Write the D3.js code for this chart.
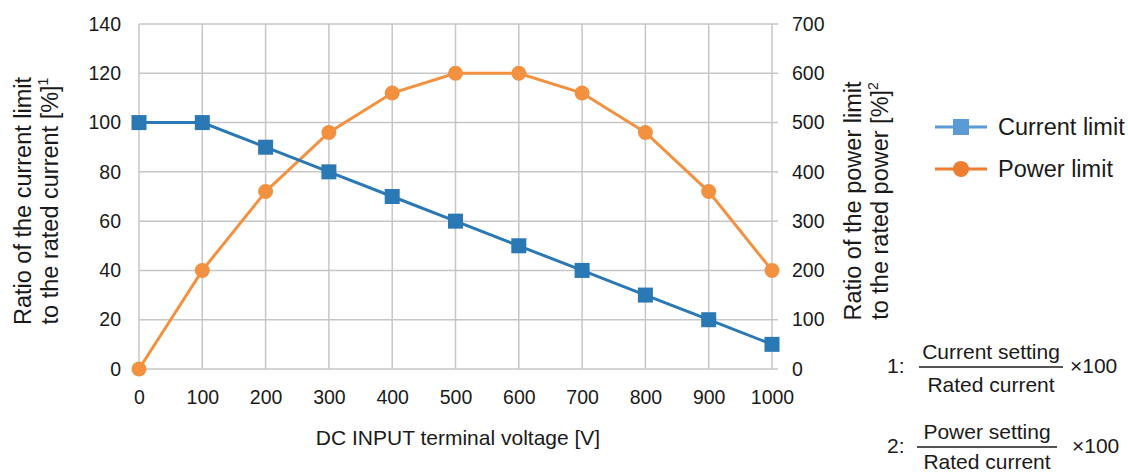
<!DOCTYPE html>
<html><head><meta charset="utf-8">
<script src="https://cdn.jsdelivr.net/npm/d3@7"></script>
<style>body{margin:0;background:#fff}svg{display:block;font-family:"Liberation Sans",Arial,sans-serif}</style>
</head><body>
<svg id="c" width="1128" height="474"></svg>
<script>
const voltages = [0,100,200,300,400,500,600,700,800,900,1000];
const currentLimit = [100,100,90,80,70,60,50,40,30,20,10];
const powerLimit = [0,200,360,480,560,600,600,560,480,360,200];
const leftTicks = [0,20,40,60,80,100,120,140];
const rightTicks = [0,100,200,300,400,500,600,700];
const xTicks = [0,100,200,300,400,500,600,700,800,900,1000];
const seriesNames = ["Current limit","Power limit"];

const svg = d3.select("#c");
const x = d3.scaleLinear().domain([0,1000]).range([139,772]);
const yL = d3.scaleLinear().domain([0,140]).range([369,24]);
const yR = d3.scaleLinear().domain([0,700]).range([369,24]);
const grid = "#c6c6c6";
const cBlue = "#2a78b4", cOrange = "#f2913f";
const ink = "#1a1a1a";

// grid
svg.append("g").selectAll("line").data(leftTicks).join("line")
  .attr("x1",x(0)).attr("x2",x(1000)).attr("y1",d=>yL(d)).attr("y2",d=>yL(d))
  .attr("stroke",grid).attr("stroke-width",1.5);
svg.append("g").selectAll("line").data(xTicks).join("line")
  .attr("x1",d=>x(d)).attr("x2",d=>x(d)).attr("y1",yL(0)).attr("y2",yL(140))
  .attr("stroke",grid).attr("stroke-width",1.5);
svg.append("g").selectAll("line").data(rightTicks).join("line")
  .attr("x1",x(1000)).attr("x2",x(1000)+6).attr("y1",d=>yR(d)).attr("y2",d=>yR(d))
  .attr("stroke",grid).attr("stroke-width",1.5);

// axes via d3
const axL = svg.append("g").attr("transform",`translate(${x(0)},0)`)
  .call(d3.axisLeft(yL).tickValues(leftTicks).tickFormat(d3.format("d")).tickSize(0).tickPadding(18));
const axR = svg.append("g").attr("transform",`translate(${x(1000)},0)`)
  .call(d3.axisRight(yR).tickValues(rightTicks).tickFormat(d3.format("d")).tickSize(0).tickPadding(20));
const axB = svg.append("g").attr("transform",`translate(0,${yL(0)})`)
  .call(d3.axisBottom(x).tickValues(xTicks).tickFormat(d3.format("d")).tickSize(0).tickPadding(21));
[axL,axR,axB].forEach(a=>{a.select(".domain").remove();
  a.selectAll("text").attr("font-size",19.5).attr("fill",ink).attr("font-family","Liberation Sans, Arial, sans-serif");});

// lines
const lineC = d3.line().x((d,i)=>x(voltages[i])).y(d=>yL(d));
const lineP = d3.line().x((d,i)=>x(voltages[i])).y(d=>yR(d));
svg.append("path").attr("d",lineP(powerLimit)).attr("fill","none").attr("stroke",cOrange).attr("stroke-width",3);
svg.append("path").attr("d",lineC(currentLimit)).attr("fill","none").attr("stroke",cBlue).attr("stroke-width",3);
svg.append("g").selectAll("circle").data(powerLimit).join("circle")
  .attr("cx",(d,i)=>x(voltages[i])).attr("cy",d=>yR(d)).attr("r",7.5).attr("fill",cOrange);
svg.append("g").selectAll("rect").data(currentLimit).join("rect")
  .attr("x",(d,i)=>x(voltages[i])-7.5).attr("y",d=>yL(d)-7.5).attr("width",15).attr("height",15).attr("fill",cBlue);

// axis titles
svg.append("text").attr("x",458).attr("y",445).attr("text-anchor","middle").attr("font-size",21).attr("fill",ink)
  .text("DC INPUT terminal voltage [V]");
function yTitle(bx, l1, l2, sup){
  const g = svg.append("g").attr("transform",`translate(${bx},201) rotate(-90)`);
  g.append("text").attr("x",0).attr("y",0).attr("text-anchor","middle").attr("font-size",23.5).attr("fill",ink).text(l1);
  const t = g.append("text").attr("x",0).attr("y",27).attr("text-anchor","middle").attr("font-size",23.5).attr("fill",ink);
  t.append("tspan").text(l2);
  t.append("tspan").attr("dy",-10).attr("font-size",14).text(sup);
}
yTitle(31,"Ratio of the current limit","to the rated current [%]","1");
yTitle(861,"Ratio of the power limit","to the rated power [%]","2");

// legend
const lg = [{n:seriesNames[0],c:"#5b9bd5",y:127,s:"sq"},{n:seriesNames[1],c:"#ed7d31",y:169,s:"ci"}];
lg.forEach(d=>{
  svg.append("line").attr("x1",935).attr("x2",987).attr("y1",d.y).attr("y2",d.y).attr("stroke",d.c).attr("stroke-width",3);
  if(d.s==="sq") svg.append("rect").attr("x",953).attr("y",d.y-8).attr("width",16).attr("height",16).attr("fill",d.c);
  else svg.append("circle").attr("cx",961).attr("cy",d.y).attr("r",8).attr("fill",d.c);
  svg.append("text").attr("x",998).attr("y",d.y+8).attr("font-size",23.5).attr("fill",ink).text(d.n);
});

// footnotes
const notes = [{k:"1:",num:"Current setting",den:"Rated current",y:367,x1:919,x2:1063,m:1070,dd:25},
               {k:"2:",num:"Power setting",den:"Rated current",y:447,x1:917,x2:1057,m:1072,dd:22}];
notes.forEach(d=>{
  svg.append("text").attr("x",887).attr("y",d.y+6).attr("font-size",21).attr("fill",ink).text(d.k);
  svg.append("line").attr("x1",d.x1).attr("x2",d.x2).attr("y1",d.y).attr("y2",d.y).attr("stroke",ink).attr("stroke-width",1.3);
  svg.append("text").attr("x",(d.x1+d.x2)/2).attr("y",d.y-8).attr("text-anchor","middle").attr("font-size",21).attr("fill",ink).text(d.num);
  svg.append("text").attr("x",(d.x1+d.x2)/2).attr("y",d.y+d.dd).attr("text-anchor","middle").attr("font-size",21).attr("fill",ink).text(d.den);
  svg.append("text").attr("x",d.m).attr("y",d.y+6).attr("font-size",21).attr("fill",ink).text("×100");
});
</script>
</body></html>
